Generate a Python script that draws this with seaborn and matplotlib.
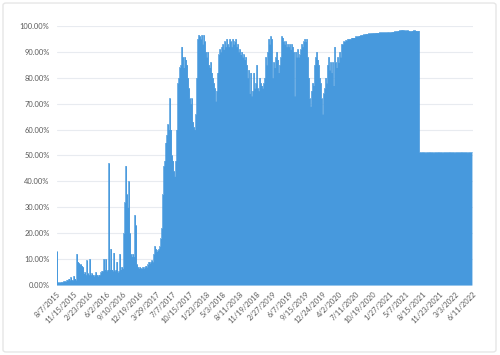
import matplotlib
matplotlib.use("Agg")
import matplotlib.pyplot as plt
from matplotlib.patches import FancyBboxPatch
import seaborn as sns
import pandas as pd
import numpy as np

# ---- data (share, %) sampled every 6 days from 8/7/2015 ----
start_date = "2015-08-07"
sample_step = "6D"
values = [
    13, 1, 1, 1, 1.2, 1.2, 1.3, 1.5, 1.5, 1.5, 2, 2,
    2.5, 2, 3, 2, 2, 3.5, 2.5, 2,
    12, 9, 8.5, 8, 8, 7.5, 7,
    4.5, 5, 4, 9.5, 4.5, 4, 10, 4, 4.5,
    4, 3.5, 4, 5, 4, 3.5, 4, 4,
    5, 5.5, 5.5, 10, 6, 10, 5.5, 6,
    47, 6, 14, 6, 5.5, 12.5, 5.5, 6, 9, 5, 5.5, 12,
    6, 7, 6.5,
    20, 32, 46, 35, 30, 40, 20, 12, 11, 12, 11, 27, 23, 8,
    7, 6.5, 7, 6.5, 6.5, 7, 6.5, 7, 7.5, 7,
    8, 9, 8.5, 9, 9.5, 9,
    12, 15, 14, 13, 13.5, 14, 15,
    18, 22, 35, 46, 48, 55, 58, 62, 60, 72,
    60, 50, 48, 44, 42, 48, 60, 78, 80, 84,
    85, 92, 88, 84, 88, 87, 85, 80, 76, 72,
    70, 72, 63, 61, 60, 66,
    80, 95, 96.5, 96, 95, 96.5, 93, 96.5, 94, 90,
    88, 90, 85, 84, 86, 82, 80, 78, 76, 71,
    75, 82, 89, 91, 90, 92, 93, 91, 94, 92,
    95, 93, 92, 95, 94, 92, 95, 93, 94, 95,
    92, 93, 90, 91, 89, 90, 88, 89, 87, 88,
    85, 80, 83,
    74, 82, 73, 75, 82, 76, 78,
    85, 76, 75, 80, 78, 77, 76, 78, 80, 88,
    85, 90, 95, 93, 96, 95, 80, 86, 84, 88,
    90, 87, 82, 85, 88, 96, 95.5, 94, 93, 94,
    92, 93, 92, 93, 91, 93, 92, 90, 73, 90,
    88, 91, 88, 89, 91, 93, 92, 94, 95, 94,
    95, 88, 80, 72, 69, 75, 78, 77, 85, 88,
    90, 87, 85, 80, 78, 72, 66, 74, 76, 80,
    78, 85, 88, 83, 86, 82, 86, 77, 92, 86,
    84, 88, 86, 90, 88, 93, 93, 94,
    94, 94.5, 94.5, 95, 95, 95, 95, 95.5, 95.5, 95.5, 95.5, 96,
    96, 96, 96.2, 96.3, 96.5, 96.5, 96.6, 96.7, 96.8, 97,
    97, 97, 97.1, 97.1, 97.2, 97.2, 97.3, 97.3, 97.3, 97.4,
    97.4, 97.4, 97.4, 97.5, 97.5, 97.5, 97.5, 97.5, 97.5, 97.5,
    97.5, 97.6, 97.6, 97.5, 97.6, 97.7, 97.8, 97.8, 97.9, 98,
    98, 98.1, 98.2, 98.3, 98.4, 98.5, 98.5, 98.4, 98.3, 98.2,
    98.3, 98.3, 98.2, 98.1, 98, 98.1, 98.2, 98.3, 98.3, 98.2,
    98.2, 98.1, 98.2,
    51.3, 51.2, 51.2, 51.3, 51.2, 51.2, 51.1, 51.2, 51.2, 51.2,
    51.3, 51.2, 51.2, 51.2, 51.1, 51.2, 51.2, 51.2, 51.2, 51.3,
    51.2, 51.2, 51.2, 51.1, 51.2, 51.2, 51.2, 51.2, 51.2, 51.2,
    51.3, 51.2, 51.2, 51.2, 51.2, 51.1, 51.2, 51.2, 51.2, 51.2,
    51.2, 51.2, 51.3, 51.2, 51.2, 51.2, 51.2, 51.2, 51.1, 51.2,
    51.2, 51.2, 51.2, 51.2,
]

tick_labels = [
    "8/7/2015", "11/15/2015", "2/23/2016", "6/2/2016", "9/10/2016",
    "12/19/2016", "3/29/2017", "7/7/2017", "10/15/2017", "1/23/2018",
    "5/3/2018", "8/11/2018", "11/19/2018", "2/27/2019", "6/7/2019",
    "9/15/2019", "12/24/2019", "4/2/2020", "7/11/2020", "10/19/2020",
    "1/27/2021", "5/7/2021", "8/15/2021", "11/23/2021", "3/3/2022",
    "6/11/2022",
]
y_ticks = [0, 10, 20, 30, 40, 50, 60, 70, 80, 90, 100]

# ---- build frame ----
dates = pd.date_range(start_date, periods=len(values), freq=sample_step)
df = pd.DataFrame({"date": dates, "value": values})
tick_dates = pd.to_datetime(tick_labels, format="%m/%d/%Y")

sns.set_theme(style="white")
plt.rcParams["font.family"] = ["Lato", "DejaVu Sans"]

color = "#4799dd"
fig = plt.figure(figsize=(5.0, 3.55), dpi=100)
ax = fig.add_axes([0.113, 0.197, 0.8325, 0.730])

# card border
fig.patches.append(FancyBboxPatch((0.006, 0.0085), 0.986, 0.983,
                                  boxstyle="round,pad=0,rounding_size=0.006",
                                  transform=fig.transFigure, fill=False,
                                  edgecolor="#e6e6e6", linewidth=1.0))

ax.fill_between(df["date"], df["value"], step="post", color=color,
                linewidth=0, zorder=2)
sns.lineplot(data=df, x="date", y="value", ax=ax, color=color,
             drawstyle="steps-post", linewidth=0.5, zorder=3)

ax.set_xlim(tick_dates[0], tick_dates[-1] + pd.Timedelta(days=1))
ax.set_ylim(0, 100)
ax.set_yticks(y_ticks)
ax.set_yticklabels([f"{v:.2f}%" for v in y_ticks])
ax.set_xticks(tick_dates)
ax.set_xticklabels(tick_labels, rotation=45, ha="right", va="top",
                   rotation_mode="anchor")
ax.tick_params(axis="both", length=0, labelsize=5.4, colors="#5a5a5a")
ax.tick_params(axis="y", pad=5)
ax.tick_params(axis="x", pad=4)
ax.yaxis.grid(True, color="#e8ebf0", linewidth=0.8, zorder=0)
ax.xaxis.grid(False)
ax.set_axisbelow(True)
for s in ax.spines.values():
    s.set_visible(False)
ax.set_xlabel("")
ax.set_ylabel("")

fig.savefig("out.png", dpi=100)
